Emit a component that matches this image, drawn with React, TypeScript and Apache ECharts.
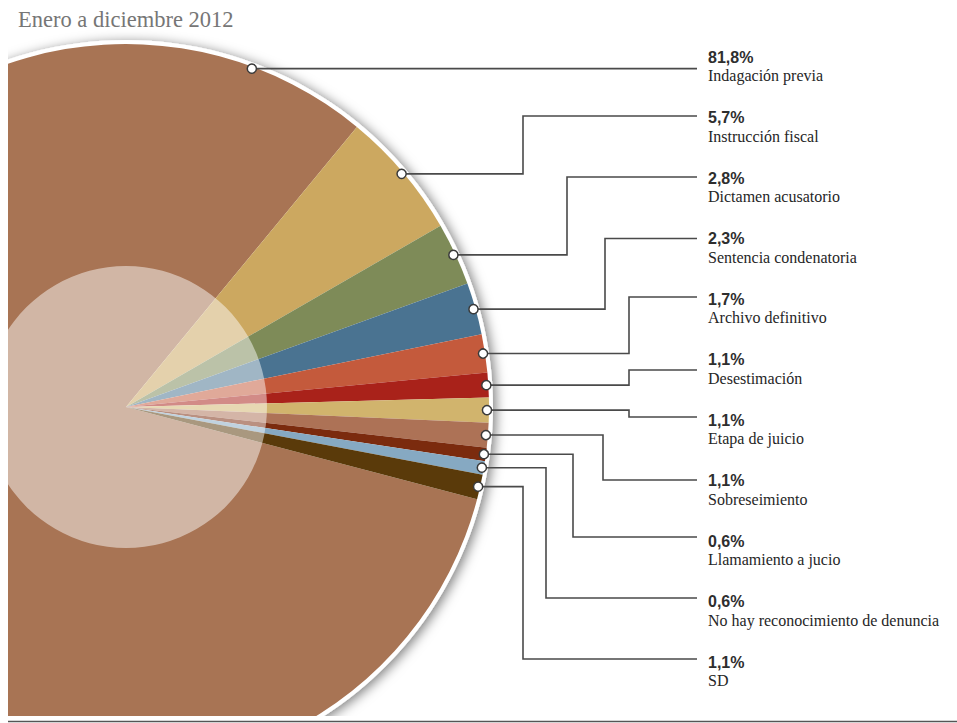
import React, { useEffect, useRef } from "react";
import * as echarts from "echarts";

// ---- data ----
const chartTitle = "Enero a diciembre 2012";
const categories = [
  "Indagación previa",
  "Instrucción fiscal",
  "Dictamen acusatorio",
  "Sentencia condenatoria",
  "Archivo definitivo",
  "Desestimación",
  "Etapa de juicio",
  "Sobreseimiento",
  "Llamamiento a jucio",
  "No hay reconocimiento de denuncia",
  "SD",
];
const values = [81.8, 5.7, 2.8, 2.3, 1.7, 1.1, 1.1, 1.1, 0.6, 0.6, 1.1];
const colors = [
  "#A87454",
  "#CCA860",
  "#7E8B58",
  "#4A7391",
  "#C45A3C",
  "#A9221A",
  "#D1B46D",
  "#AD7256",
  "#7B2B0E",
  "#86A9C2",
  "#5A3A0A",
];

// ---- layout (chart pixel space) ----
const CX = 118;
const CY = 399;
const R = 363;
const INNER_R = 141;
const DOT_R = 361;
const FIRST_SMALL_ANGLE = 50.5; // where the first small slice begins
const BIG_DOT_ANGLE = 69.6; // marker position on the large slice
const ELBOW_X = [null, 515, 559, 597, 621, 621, 621, 595, 565, 538, 515];
const LINE_DY = [0, -1.5, -1, 0, -2, 10.5, -3, -0.5, -4, -3.5, -3];
const LABEL_X = 700;
const LINE_END_X = 689;
const LABEL_TOP = 49;
const LABEL_STEP = 60.5;
const NAME_DY = 18.5;

const fmt = (v: number) => v.toFixed(1).replace(".", ",") + "%";

export default function App() {
  const ref = useRef<HTMLDivElement>(null);

  useEffect(() => {
    if (!ref.current) return;
    const chart = echarts.init(ref.current, null, { renderer: "svg" });
    const total = values.reduce((a, b) => a + b, 0);
    const startAngle = FIRST_SMALL_ANGLE + (360 * values[0]) / total;

    const midAngle = (i: number) => {
      if (i === 0) return BIG_DOT_ANGLE;
      let cum = 0;
      for (let k = 1; k < i; k++) cum += values[k];
      return FIRST_SMALL_ANGLE - (360 * (cum + values[i] / 2)) / total;
    };

    chart.setOption({
      animation: false,
      title: {
        text: chartTitle,
        left: 10,
        top: 0,
        padding: 0,
        textStyle: {
          fontFamily: "Liberation Serif",
          fontSize: 22.5,
          fontWeight: "normal",
          color: "#767676",
        },
      },
      series: [
        {
          type: "pie",
          silent: true,
          center: [CX, CY],
          radius: R + 4,
          z: 1,
          label: { show: false },
          labelLine: { show: false },
          data: [
            {
              value: 1,
              itemStyle: {
                color: "#ffffff",
                shadowBlur: 12,
                shadowColor: "rgba(0,0,0,0.5)",
                shadowOffsetX: 3,
                shadowOffsetY: 2,
              },
            },
          ],
        },
        {
          type: "pie",
          silent: true,
          center: [CX, CY],
          radius: R,
          startAngle,
          clockwise: true,
          z: 2,
          label: { show: false },
          labelLine: { show: false },
          itemStyle: { borderWidth: 0 },
          data: categories.map((name, i) => ({
            name,
            value: values[i],
            itemStyle: { color: colors[i] },
          })),
        },
        {
          type: "pie",
          silent: true,
          center: [CX, CY],
          radius: INNER_R,
          z: 3,
          label: { show: false },
          labelLine: { show: false },
          data: [{ value: 1, itemStyle: { color: "rgba(255,255,255,0.48)" } }],
        },
        {
          type: "custom",
          coordinateSystem: "none",
          silent: true,
          z: 10,
          data: values.map((v, i) => [i, v]),
          renderItem: (params: any) => {
            const i = params.dataIndex;
            const a = (midAngle(i) * Math.PI) / 180;
            const dx = CX + DOT_R * Math.cos(a);
            const dy = CY - DOT_R * Math.sin(a);
            const pctY = LABEL_TOP + LABEL_STEP * i;
            const ly = pctY + LINE_DY[i];
            const points =
              i === 0
                ? [
                    [dx, dy],
                    [LINE_END_X, dy],
                  ]
                : [
                    [dx, dy],
                    [ELBOW_X[i] as number, dy],
                    [ELBOW_X[i] as number, ly],
                    [LINE_END_X, ly],
                  ];
            return {
              type: "group",
              children: [
                {
                  type: "polyline",
                  shape: { points },
                  style: { stroke: "#4a4a4a", lineWidth: 1.6, fill: "none" },
                },
                {
                  type: "circle",
                  shape: { cx: dx, cy: dy, r: 4.6 },
                  style: { fill: "#ffffff", stroke: "#3a3a3a", lineWidth: 1.5 },
                },
                {
                  type: "text",
                  style: {
                    text: fmt(values[i]),
                    x: LABEL_X,
                    y: pctY,
                    fill: "#2e2e2e",
                    fontFamily: "Liberation Sans",
                    fontWeight: "bold",
                    fontSize: 16,
                    align: "left",
                    verticalAlign: "middle",
                  },
                },
                {
                  type: "text",
                  style: {
                    text: categories[i],
                    x: LABEL_X,
                    y: pctY + NAME_DY,
                    fill: "#262626",
                    fontFamily: "Liberation Serif",
                    fontSize: 16,
                    align: "left",
                    verticalAlign: "middle",
                  },
                },
              ],
            };
          },
        },
      ],
      graphic: [
        {
          type: "rect",
          z: 100,
          silent: true,
          shape: { x: 0, y: 708, width: 949, height: 7 },
          style: { fill: "#ffffff" },
        },
        {
          type: "line",
          z: 101,
          silent: true,
          shape: { x1: 0, y1: 713.5, x2: 949, y2: 713.5 },
          style: { stroke: "#555555", lineWidth: 1.5 },
        },
      ],
    });
    return () => chart.dispose();
  }, []);

  return (
    <div
      ref={ref}
      style={{
        position: "absolute",
        left: 8,
        top: 8,
        width: 949,
        height: 715,
        overflow: "hidden",
      }}
    />
  );
}
